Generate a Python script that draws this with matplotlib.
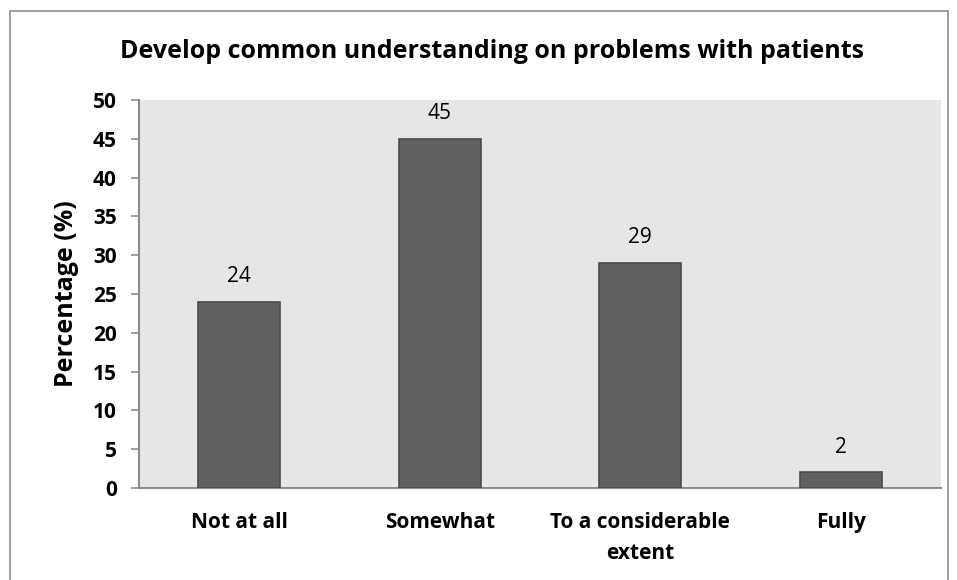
import matplotlib
matplotlib.use("Agg")
import matplotlib.pyplot as plt
from matplotlib.patches import Rectangle

categories = ["Not at all", "Somewhat", "To a considerable\nextent", "Fully"]
values = [24, 45, 29, 2]
yticks = [0, 5, 10, 15, 20, 25, 30, 35, 40, 45, 50]

plt.rcParams['font.family'] = ['Open Sans', 'DejaVu Sans']

W, H = 957, 580
fig = plt.figure(figsize=(W/100, H/100), dpi=100)
fig.patch.set_facecolor('white')

# outer border
fig.add_artist(Rectangle((10/W, -0.01), (948-10)/W, (H-11)/H + 0.01, transform=fig.transFigure,
                         fill=False, edgecolor='#8c8c8c', linewidth=1.2))

left, right, top, bottom = 139, 941, 100, 488
ax = fig.add_axes([left/W, 1-bottom/H, (right-left)/W, (bottom-top)/H])
ax.set_facecolor('#e6e6e6')

x = list(range(len(categories)))
bars = ax.bar(x, values, width=0.41, color='#606060', edgecolor='#4a4a4a', linewidth=1.2, zorder=3)
for xi, v in zip(x, values):
    ax.text(xi, v + 1.9, str(v), ha='center', va='bottom', fontsize=15, color='black')

ax.set_xlim(-0.5, len(categories) - 0.5)
ax.set_ylim(0, 50)
ax.set_yticks(yticks)
ax.set_yticklabels([str(t) for t in yticks], fontsize=15, fontweight='bold')
ax.set_xticks(x)
ax.set_xticklabels(categories, fontsize=15, fontweight='bold', linespacing=1.65)
ax.tick_params(axis='x', length=0, pad=17)
ax.tick_params(axis='y', length=6, width=1.2, color='#8c8c8c', pad=10)

for s in ['top', 'right']:
    ax.spines[s].set_visible(False)
for s in ['left', 'bottom']:
    ax.spines[s].set_color('#8c8c8c')
    ax.spines[s].set_linewidth(1.5)

ax.set_ylabel('Percentage (%)', fontsize=18, fontweight='bold', labelpad=10)
fig.text(492/W, 1 - 52/H, 'Develop common understanding on problems with patients',
         ha='center', va='center', fontsize=18, fontweight='bold')

fig.savefig('out.png', dpi=100)
